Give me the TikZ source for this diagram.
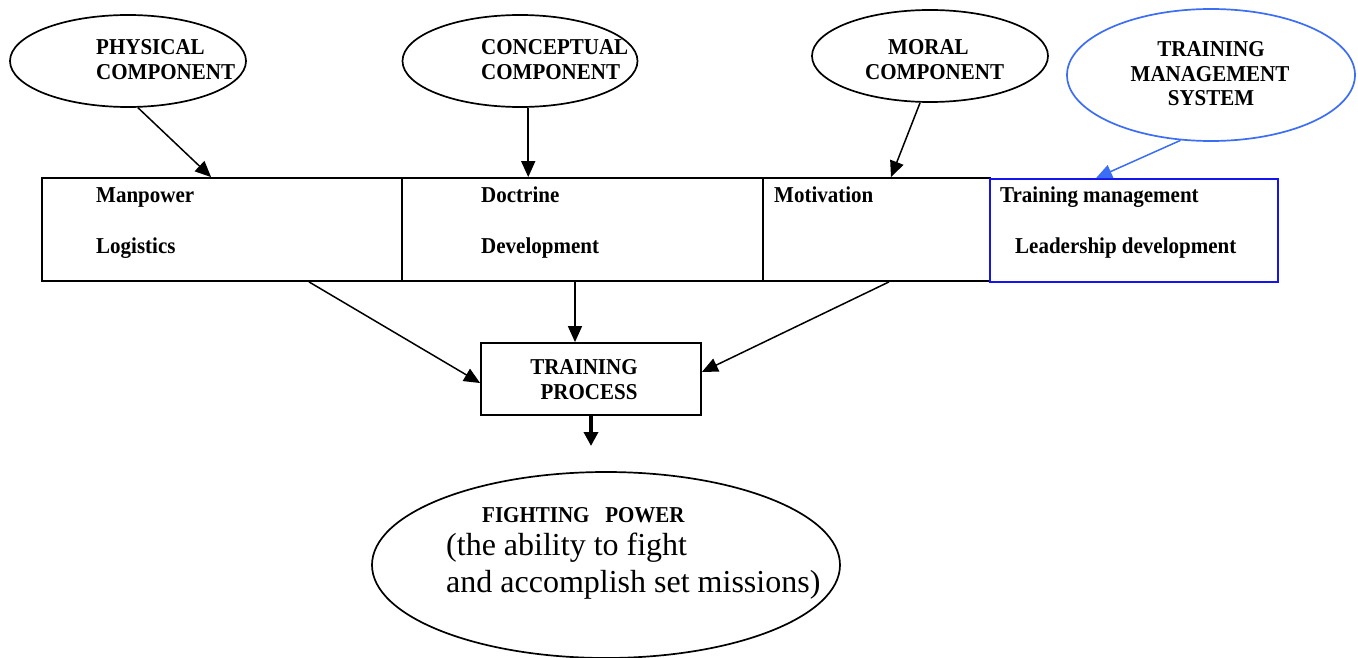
\documentclass[tikz,border=0pt]{standalone}
\usepackage{fontspec}
\usepackage{graphicx}
\setmainfont{Liberation Serif}
\usetikzlibrary{arrows.meta,shapes.geometric,calc}
\definecolor{lblue}{RGB}{60,110,245}
\definecolor{dblue}{RGB}{20,20,240}
\newcommand\vst[1]{\scalebox{1}[1.08]{#1}}
\begin{document}
\begin{tikzpicture}[x=1pt,y=-1pt,
  lbl/.style={inner sep=0pt,anchor=base west,font=\fontsize{21}{24}\selectfont\bfseries},
  lblc/.style={inner sep=0pt,anchor=base,font=\fontsize{21}{24}\selectfont\bfseries},
  big/.style={inner sep=0pt,anchor=base west,font=\fontsize{32}{37}\selectfont},
  oval/.style={draw,ellipse,line width=1.7pt,inner sep=0pt},
  blk/.style={draw,rectangle,line width=1.8pt,inner sep=0pt},
  arr/.style={line width=1.5pt,-{Triangle[length=16pt,width=14pt]}},
 ]
\useasboundingbox (0,0) rectangle (1358,658);
\fill[white] (0,0) rectangle (1358,658);

% ellipses
\node[oval,minimum width=236pt,minimum height=92pt] (phys) at (128,61) {};
\node[oval,minimum width=235pt,minimum height=92pt] (conc) at (520,61) {};
\node[oval,minimum width=236pt,minimum height=92pt] (moral) at (930,56) {};
\node[oval,draw=lblue,minimum width=288pt,minimum height=132pt] (tms) at (1211,75) {};

\node[lbl] (tp1) at (96,55) {\vst{PHYSICAL}};
\node[lbl] (tp2) at (96,80) {\vst{COMPONENT}};
\node[lbl] (tc1) at (481,55) {\vst{CONCEPTUAL}};
\node[lbl] (tc2) at (481,80) {\vst{COMPONENT}};
\node[lbl] (tm1) at (888,55) {\vst{MORAL}};
\node[lbl] (tm2) at (865,80) {\vst{COMPONENT}};
\node[lblc] (ts1) at (1211,57) {\vst{TRAINING}};
\node[lblc] (ts2) at (1210,82) {\vst{MANAGEMENT}};
\node[lblc] (ts3) at (1211,106) {\vst{SYSTEM}};

% boxes
\node[blk,minimum width=360pt,minimum height=103pt] (box1) at (222,229.5) {};
\node[blk,minimum width=361pt,minimum height=103pt] (box2) at (582.5,229.5) {};
\node[blk,minimum width=227pt,minimum height=103pt] (box3) at (876.5,229.5) {};
\node[blk,draw=dblue,minimum width=288pt,minimum height=103pt] (box4) at (1134,230.5) {};

\node[lbl] (m1) at (96,203) {\vst{Manpower}};
\node[lbl] (m2) at (96,253) {\vst{Logistics}};
\node[lbl] (d1) at (481,203) {\vst{Doctrine}};
\node[lbl] (d2) at (481,253) {\vst{Development}};
\node[lbl] (mo) at (774,203) {\vst{Motivation}};
\node[lbl] (tr1) at (1000,203) {\vst{Training management}};
\node[lbl] (tr2) at (1015,253) {\vst{Leadership development}};

% training process
\node[blk,minimum width=220pt,minimum height=72pt] (tp) at (591,379) {};
\node[lblc] (tpa) at (584,374) {\vst{TRAINING}};
\node[lblc] (tpb) at (589,399) {\vst{PROCESS}};

% fighting power
\node[oval,minimum width=468pt,minimum height=186pt] (fp) at (606,565) {};
\node[lbl] (fpa) at (482,522) {\vst{FIGHTING\ \ \ POWER}};
\node[big] (fpb) at (446,555) {(the ability to fight};
\node[big] (fpc) at (446,592) {and accomplish set missions)};

% connectors
\draw[arr] (phys.-78) -- ([xshift=170pt]box1.north west);
\draw[arr] (conc.-80) -- (conc.-80 |- box2.north);
\draw[arr] (moral.-102) -- ([xshift=14.5pt]box3.north);
\draw[arr,draw=lblue,fill=lblue] (tms.-115) -- ([xshift=-38pt]box4.north);

\draw[arr] ([xshift=87pt]box1.south) -- ([yshift=-4pt]tp.west);
\draw[arr] ([xshift=-7.5pt]box2.south) -- ([xshift=-7.5pt]box2.south |- tp.north);
\draw[arr] ([xshift=12.5pt]box3.south) -- ([yshift=7pt]tp.east);
\coordinate (fptip) at (591,446);
\draw[line width=3.5pt,-{Triangle[length=14pt,width=14pt]}] (tp.south) -- (fptip);
\end{tikzpicture}
\end{document}
